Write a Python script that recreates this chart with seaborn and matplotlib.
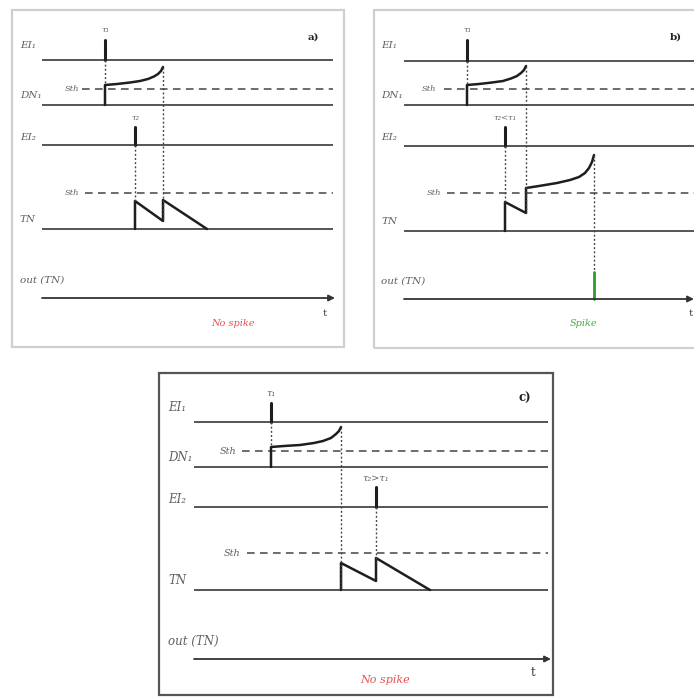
import numpy as np
import matplotlib
matplotlib.use("Agg")
import matplotlib.pyplot as plt
import seaborn as sns
from matplotlib.patches import Rectangle

sns.set_theme(style="white")
plt.rcParams["font.family"] = ["DejaVu Serif"]

W, H = 694, 698

# panel boxes in figure pixels: left, top, width, height
BOXES = {"a": (12, 10, 332, 337), "b": (374, 10, 324, 338), "c": (159, 373, 394, 322)}
BORDER_COLORS = {"a": "#cfcfcf", "b": "#cfcfcf", "c": "#555555"}

# row baselines (local px from the top of each panel): EI1, DN1, EI2, TN, out
ROWS = {"a": [50, 95, 135, 219, 288], "b": [51, 95, 136, 221, 289], "c": [49, 94, 134, 217, 286]}
ROW_LABELS = ["EI₁", "DN₁", "EI₂", "TN", "out (TN)"]
LABEL_LIFT = [15, 10, 8, 9, 18]
LABEL_X = {"a": 8, "b": 7, "c": 9}

# time span of the baselines (local px)
SPAN = {"a": (30, 321), "b": (30, 324), "c": (35, 389)}
ARROW_END = {"a": 323, "b": 320, "c": 392}

# input spike times and heights
T1 = {"a": 93, "b": 93, "c": 112}
T2 = {"a": 123, "b": 131, "c": 217}
SPIKE_H = {"a": (20, 18), "b": (21, 19), "c": (19, 20)}
T1_LABEL = {"a": "τ₁", "b": "τ₁", "c": "τ₁"}
T2_LABEL = {"a": "τ₂", "b": "τ₂<τ₁", "c": "τ₂>τ₁"}

# DN1 potential (time, height above baseline)
DN_T = {"a": [93, 93, 105, 118, 128, 136, 142, 146, 149, 151],
        "b": [93, 93, 105, 118, 129, 137, 143, 147, 150, 152],
        "c": [112, 112, 125, 141, 155, 164, 172, 177, 180, 182]}
DN_H = {"a": [0, 20, 21, 22.5, 24, 26, 28.5, 31, 34, 38],
        "b": [0, 20, 21, 22.5, 24, 26.5, 29, 32, 35, 39],
        "c": [0, 20, 21, 22, 24, 26, 29, 33, 36, 40]}

# TN potential (time, height above baseline)
TN_T = {"a": [123, 123, 151, 151, 195],
        "b": [131, 131, 152, 152, 165, 183, 196, 205, 211, 215, 218, 220],
        "c": [182, 182, 217, 217, 271]}
TN_H = {"a": [0, 28, 8, 29, 0],
        "b": [0, 29, 18, 43, 45, 48, 51, 54, 58, 63, 69, 76],
        "c": [0, 27, 9, 32, 0]}

# thresholds: (height above baseline, dash start, label x)
STH_DN = {"a": (16, 70, 60), "b": (16, 70, 55), "c": (16, 83, 69)}
STH_TN = {"a": (36, 73, 60), "b": (38, 73, 60), "c": (37, 88, 73)}

# output spike (only panel b)
OUT_T, OUT_H = 220, 27

RESULT = {"a": ("No spike", "#e8504f", 221, 313),
          "b": ("Spike", "#3fae3f", 210, 313),
          "c": ("No spike", "#e8504f", 226, 307)}
TAG_POS = {"a": (301, 27), "b": (302, 27), "c": (366, 25)}
T_POS = {"a": (313, 303), "b": (317, 303), "c": (374, 299)}
FS = {"a": 7.5, "b": 7.5, "c": 8.5}

LINE = "#555555"
TRACE = "#1e1e1e"
TXT = "#606060"

fig = plt.figure(figsize=(W / 100, H / 100), dpi=100)
fig.patch.set_facecolor("white")


def draw_panel(key):
    left, top, bw, bh = BOXES[key]
    ax = fig.add_axes([left / W, 1 - (top + bh) / H, bw / W, bh / H])
    ax.set_xlim(0, bw)
    ax.set_ylim(bh, 0)
    ax.axis("off")
    ax.add_patch(Rectangle((0, 0), 1, 1, transform=ax.transAxes, fill=False,
                           edgecolor=BORDER_COLORS[key], lw=1.6, clip_on=False))

    rows = ROWS[key]
    x0, x1 = SPAN[key]
    fs = FS[key]

    # baselines (all but the out axis)
    for y in rows[:4]:
        ax.plot([x0, x1], [y, y], color=LINE, lw=1.4, solid_capstyle="butt")
    # out axis with arrow
    ax.annotate("", xy=(ARROW_END[key], rows[4]), xytext=(x0, rows[4]),
                arrowprops=dict(arrowstyle="-|>", color="#333333", lw=1.3,
                                mutation_scale=9, shrinkA=0, shrinkB=0))

    # row labels
    for y, lab, lift in zip(rows, ROW_LABELS, LABEL_LIFT):
        ax.text(LABEL_X[key], y - lift, lab, fontsize=fs, style="italic",
                color=TXT, ha="left", va="center")

    # thresholds
    for (h, xs, xl), base in ((STH_DN[key], rows[1]), (STH_TN[key], rows[3])):
        ax.plot([xs, x1], [base - h, base - h], color="#444444", lw=1.1,
                dashes=(5, 3.5))
        ax.text(xl, base - h, "Sth", fontsize=fs - 1.5, style="italic",
                color=TXT, ha="center", va="center")

    # input spikes
    h1, h2 = SPIKE_H[key]
    ax.plot([T1[key], T1[key]], [rows[0], rows[0] - h1], color=TRACE, lw=2.2)
    ax.plot([T2[key], T2[key]], [rows[2], rows[2] - h2], color=TRACE, lw=2.2)
    ax.text(T1[key], rows[0] - h1 - 10, T1_LABEL[key], fontsize=fs - 1.5,
            style="italic", color=TXT, ha="center", va="center")
    ax.text(T2[key], rows[2] - h2 - 9, T2_LABEL[key], fontsize=fs - 1.5,
            style="italic", color=TXT, ha="center", va="center")

    # DN1 trace
    dn_t = np.array(DN_T[key], float)
    dn_y = rows[1] - np.array(DN_H[key], float)
    sns.lineplot(x=dn_t, y=dn_y, sort=False, estimator=None, color=TRACE,
                 lw=1.8, ax=ax)
    # TN trace
    tn_t = np.array(TN_T[key], float)
    tn_y = rows[3] - np.array(TN_H[key], float)
    sns.lineplot(x=tn_t, y=tn_y, sort=False, estimator=None, color=TRACE,
                 lw=1.8, ax=ax)

    # dotted guides
    dot = dict(color="#444444", lw=1.0, linestyle=(0, (1.4, 1.6)))
    ax.plot([T1[key]] * 2, [rows[0], dn_y[1]], **dot)
    ax.plot([T2[key]] * 2, [rows[2], tn_y[1]], **dot)
    fire = dn_t[-1]
    k = int(np.where(tn_t == fire)[0][0])
    ax.plot([fire] * 2, [dn_y[-1], tn_y[k]], **dot)

    if key == "b":
        ax.plot([tn_t[-1]] * 2, [tn_y[-1], rows[4]], **dot)
        ax.plot([OUT_T, OUT_T], [rows[4], rows[4] - OUT_H], color="#2e9e2e", lw=2.0)

    # tag, time label, result
    tx, ty = TAG_POS[key]
    ax.text(tx, ty, key + ")", fontsize=fs, weight="bold", color="#222222",
            ha="center", va="center")
    px, py = T_POS[key]
    ax.text(px, py, "t", fontsize=fs, color="#444444", ha="center", va="center")
    txt, col, rx, ry = RESULT[key]
    ax.text(rx, ry, txt, fontsize=fs - 0.5, style="italic", color=col,
            ha="center", va="center")
    ax.set_xlabel("")
    ax.set_ylabel("")


for key in ("a", "b", "c"):
    draw_panel(key)

fig.savefig("out.png", dpi=100, facecolor="white")
